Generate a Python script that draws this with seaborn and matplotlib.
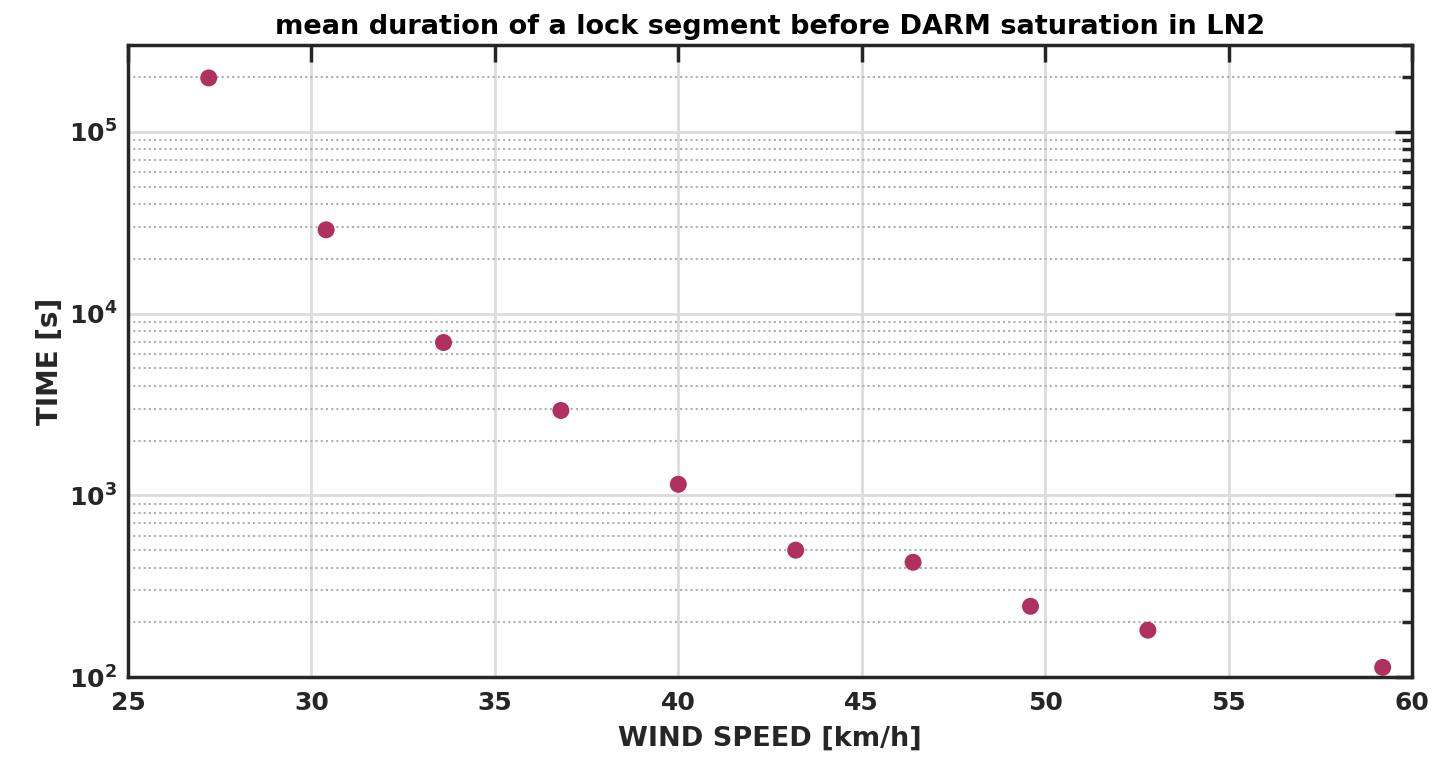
import numpy as np
import pandas as pd
import matplotlib
matplotlib.use("Agg")
import matplotlib.pyplot as plt
import seaborn as sns

wind_speed = [27.2, 30.4, 33.6, 36.8, 40.0, 43.2, 46.4, 49.6, 52.8, 59.2]
mean_time = [198000, 28900, 6930, 2930, 1150, 499, 428, 245, 181, 113]

df = pd.DataFrame({"wind": wind_speed, "time": mean_time})

sns.set_theme(style="white")
plt.rcParams["font.family"] = ["DejaVu Sans"]
plt.rcParams["font.weight"] = "bold"

fig = plt.figure(figsize=(14.53, 7.65), dpi=100)
ax = fig.add_axes([0.0881, 0.115, 0.8837, 0.826])

sns.scatterplot(data=df, x="wind", y="time", ax=ax, color="#b03060",
                s=150, edgecolor="none", zorder=3)

ax.set_yscale("log")
ax.set_xlim(25, 60)
ax.set_ylim(100, 3e5)
ax.set_xticks(np.arange(25, 61, 5))

ax.grid(True, which="major", axis="both", color="#dcdcdc", linewidth=2, linestyle="-")
ax.grid(True, which="minor", axis="y", color="#b0b0b0", linewidth=1.5, linestyle=(0, (1, 1.5)))
ax.set_axisbelow(True)

for sp in ax.spines.values():
    sp.set_color("#262626")
    sp.set_linewidth(2.5)
ax.tick_params(which="both", direction="in", top=True, right=True, color="#262626",
               labelsize=18, labelcolor="#262626")
ax.tick_params(which="major", length=12, width=2.5)
ax.tick_params(which="minor", length=7, width=2.5)
ax.tick_params(axis="x", pad=10)
ax.tick_params(axis="y", pad=8)
for lbl in ax.get_xticklabels() + ax.get_yticklabels():
    lbl.set_fontweight("bold")

ax.set_xlabel("WIND SPEED [km/h]", fontsize=19.5, fontweight="bold", color="#262626", labelpad=8)
ax.set_ylabel("TIME [s]", fontsize=20, fontweight="bold", color="#262626", labelpad=3)
ax.set_title("mean duration of a lock segment before DARM saturation in LN2",
             fontsize=19.5, fontweight="bold", color="black", pad=8)

fig.savefig("out.png", dpi=100)
